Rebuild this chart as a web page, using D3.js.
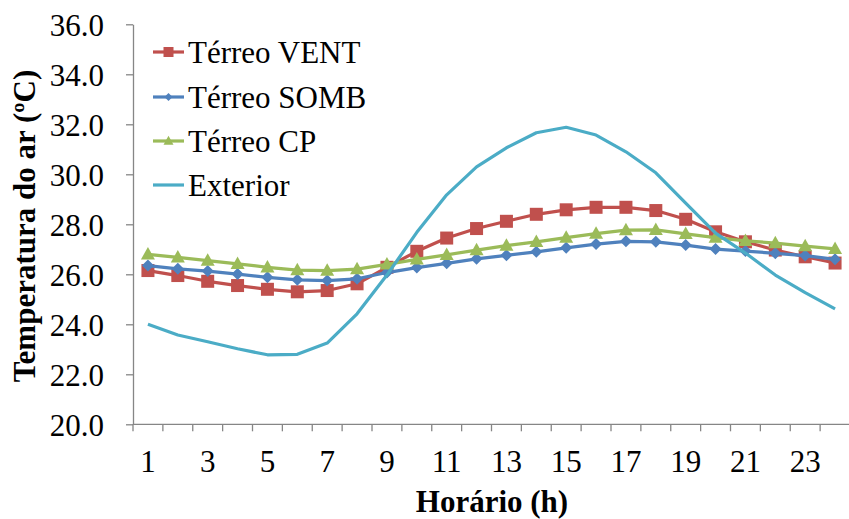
<!DOCTYPE html>
<html>
<head>
<meta charset="utf-8">
<script src="https://cdn.jsdelivr.net/npm/d3@7"></script>
<style>
html,body{margin:0;padding:0;background:#fff;}
svg{display:block;}
text{font-family:"Liberation Serif","Times New Roman",serif;fill:#000;}
</style>
</head>
<body>
<svg id="chart" width="849" height="519"></svg>
<script>
const hours = [1,2,3,4,5,6,7,8,9,10,11,12,13,14,15,16,17,18,19,20,21,22,23,24];
const xTickLabels = [1,3,5,7,9,11,13,15,17,19,21,23];
const yTicks = [20,22,24,26,28,30,32,34,36];
const vent = [26.15,25.95,25.72,25.55,25.40,25.30,25.35,25.62,26.28,26.92,27.45,27.83,28.12,28.40,28.58,28.68,28.68,28.55,28.20,27.70,27.30,26.97,26.70,26.45];
const somb = [26.35,26.22,26.13,26.01,25.88,25.78,25.75,25.82,26.07,26.27,26.44,26.62,26.76,26.90,27.06,27.21,27.32,27.30,27.17,27.01,26.93,26.84,26.75,26.60];
const cp = [26.80,26.68,26.55,26.42,26.28,26.17,26.15,26.21,26.40,26.60,26.78,26.97,27.15,27.30,27.47,27.63,27.77,27.78,27.62,27.47,27.34,27.25,27.13,27.02];
const ext = [24.0,23.57,23.3,23.02,22.78,22.8,23.25,24.42,25.97,27.68,29.18,30.3,31.06,31.66,31.88,31.57,30.9,30.06,28.85,27.65,26.85,25.97,25.27,24.62];
const seriesNames = ["Térreo VENT","Térreo SOMB","Térreo CP","Exterior"];
const seriesColors = ["#C0504D","#4F81BD","#9BBB59","#4BACC6"];
const seriesMarkers = ["square","diamond","triangle","none"];

(function(){
const FONT = "'Liberation Serif','Times New Roman',serif";
const series = [vent, somb, cp, ext].map((vals,i)=>({name:seriesNames[i],color:seriesColors[i],marker:seriesMarkers[i],values:vals}));

const svg = d3.select("#chart");
const mLeft = 133, mRight = 850, mTop = 24.3, mBottom = 424.3;

const x = d3.scaleBand().domain(hours).range([mLeft, mRight]).paddingInner(0).paddingOuter(0);
const y = d3.scaleLinear().domain([20,36]).range([mBottom, mTop]);
const cx = h => x(h) + x.bandwidth()/2;

const axisColor = "#868686";

// Y axis
const yAxis = svg.append("g").attr("transform",`translate(${mLeft},0)`)
  .call(d3.axisLeft(y).tickValues(yTicks).tickFormat(d3.format(".1f")).tickSize(7).tickSizeOuter(0));
yAxis.attr("font-family",null).attr("font-size",null);
yAxis.select(".domain").attr("stroke",axisColor).attr("stroke-width",1.3);
yAxis.selectAll(".tick line").attr("stroke",axisColor).attr("stroke-width",1.3);
yAxis.selectAll(".tick text").attr("x",-29).attr("dy","0.35em").attr("fill","#000")
  .style("font-size","31px").style("font-family",FONT);

// X axis line
svg.append("line").attr("x1",mLeft).attr("x2",mRight).attr("y1",mBottom).attr("y2",mBottom)
  .attr("stroke",axisColor).attr("stroke-width",1.3);
const boundaries = hours.map(h=>x(h)).concat([x(hours[hours.length-1])+x.bandwidth()]);
svg.append("g").selectAll("line").data(boundaries).join("line")
  .attr("x1",d=>d).attr("x2",d=>d).attr("y1",mBottom).attr("y2",mBottom+7)
  .attr("stroke",axisColor).attr("stroke-width",1.3);
svg.append("g").selectAll("text").data(xTickLabels).join("text")
  .attr("x",d=>cx(d)).attr("y",472).attr("text-anchor","middle")
  .style("font-size","31px").style("font-family",FONT).text(d=>d);

// Axis titles
svg.append("text").attr("x",492).attr("y",512).attr("text-anchor","middle")
  .style("font-size","31px").style("font-weight","bold").style("font-family",FONT).text("Horário (h)");
svg.append("text").attr("transform","translate(35,226) rotate(-90)").attr("text-anchor","middle")
  .style("font-size","31px").style("font-weight","bold").style("font-family",FONT).text("Temperatura do ar (ºC)");

function drawMarker(g, type, px, py, color, size){
  if(type==="square"){
    g.append("rect").attr("x",px-size/2).attr("y",py-size/2).attr("width",size).attr("height",size).attr("fill",color);
  } else if(type==="diamond"){
    const s=size/2;
    g.append("path").attr("d",`M${px},${py-s}L${px+s},${py}L${px},${py+s}L${px-s},${py}Z`).attr("fill",color);
  } else if(type==="triangle"){
    const s=size/2;
    g.append("path").attr("d",`M${px},${py-s*1.05}L${px+s},${py+s*0.75}L${px-s},${py+s*0.75}Z`).attr("fill",color);
  }
}
const markerSize = {square:13, diamond:12, triangle:14};

const line = d3.line().x((d,i)=>cx(hours[i])).y(d=>y(d));
series.forEach(s=>{
  const g = svg.append("g");
  g.append("path").datum(s.values).attr("d",line).attr("fill","none")
    .attr("stroke",s.color).attr("stroke-width",3.2).attr("stroke-linejoin","round");
  if(s.marker!=="none"){
    s.values.forEach((v,j)=>drawMarker(g,s.marker,cx(hours[j]),y(v),s.color,markerSize[s.marker]));
  }
});

// Legend
const legendY = [52,97,141,185];
const legendMarkerSize = {square:10, diamond:8, triangle:10};
series.forEach((s,i)=>{
  const g = svg.append("g");
  g.append("line").attr("x1",153).attr("x2",184).attr("y1",legendY[i]).attr("y2",legendY[i])
    .attr("stroke",s.color).attr("stroke-width",3.2);
  if(s.marker!=="none") drawMarker(g,s.marker,168.5,legendY[i],s.color,legendMarkerSize[s.marker]);
  g.append("text").attr("x",188).attr("y",legendY[i]).attr("dy","0.35em")
    .style("font-size","31px").style("font-family",FONT).text(s.name);
});
})();
</script>
</body>
</html>
